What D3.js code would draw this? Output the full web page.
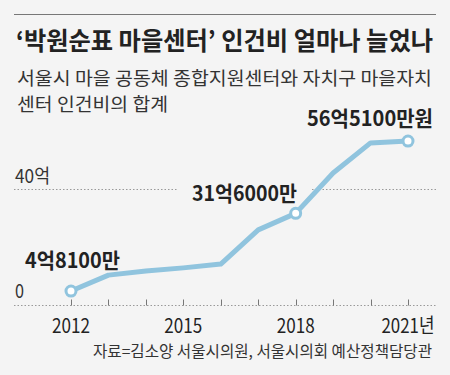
<!DOCTYPE html>
<html>
<head>
<meta charset="utf-8">
<script src="https://d3js.org/d3.v7.min.js"></script>
<style>
  body { margin: 0; background: #f4f4f4; }
  svg text { font-family: "Noto Sans CJK KR", "Noto Sans", sans-serif; }
</style>
</head>
<body>
<div id="chart"></div>
<script>
// data (억원)
var years = [2012, 2013, 2014, 2015, 2016, 2017, 2018, 2019, 2020, 2021];
var values = [4.81, 10.3, 11.7, 12.8, 14.1, 25.9, 31.6, 45.5, 55.9, 56.51];
var tickYears = [2012, 2015, 2018, 2021];
var tickLabels = ["2012", "2015", "2018", "2021년"];
var markedYears = [2012, 2018, 2021];
var markLabels = ["4억8100만", "31억6000만", "56억5100만원"];
var yTicks = [0, 40];
var yTickLabels = ["0", "40억"];

var width = 450, height = 375;
var blue = "#90c4de";

var svg = d3.select("#chart").append("svg")
    .attr("width", width)
    .attr("height", height);

svg.append("rect").attr("width", width).attr("height", height).attr("fill", "#f4f4f4");

// top rule + titles
svg.append("line")
    .attr("x1", 14).attr("x2", 436).attr("y1", 14.5).attr("y2", 14.5)
    .attr("stroke", "#777").attr("stroke-width", 1);

svg.append("text")
    .attr("x", 16).attr("y", 50)
    .attr("font-size", 25).attr("font-weight", "bold").attr("fill", "#222")
    .attr("textLength", 417).attr("lengthAdjust", "spacingAndGlyphs")
    .text("‘박원순표 마을센터’ 인건비 얼마나 늘었나");

// subtitle, two lines (font kept small enough that the line boxes don't collide)
svg.append("text")
    .attr("x", 17).attr("y", 85)
    .attr("font-size", 17.8).attr("fill", "#333")
    .attr("textLength", 415).attr("lengthAdjust", "spacingAndGlyphs")
    .text("서울시 마을 공동체 종합지원센터와 자치구 마을자치");
svg.append("text")
    .attr("x", 17).attr("y", 111)
    .attr("font-size", 17.8).attr("fill", "#333")
    .attr("textLength", 151).attr("lengthAdjust", "spacingAndGlyphs")
    .text("센터 인건비의 합계");

// scales
var x = d3.scaleLinear().domain([2012, 2021]).range([71, 408]);
var y = d3.scaleLinear().domain([0, 40]).range([305, 189]);

// 40억 gridline (broken behind label)
var gy = Math.round(y(40)) + 0.5;
[[14, 178], [312, 436]].forEach(function (seg) {
    svg.append("line")
        .attr("x1", seg[0]).attr("x2", seg[1]).attr("y1", gy).attr("y2", gy)
        .attr("stroke", "#999").attr("stroke-width", 1.2)
        .attr("stroke-dasharray", "1.5,2");
});

// baseline
var by = Math.round(y(0)) + 0.5;
svg.append("line")
    .attr("x1", 14).attr("x2", 436).attr("y1", by).attr("y2", by)
    .attr("stroke", "#999").attr("stroke-width", 1.2)
    .attr("stroke-dasharray", "1.5,2");

svg.selectAll(".tick")
    .data(years)
    .enter().append("line")
    .attr("x1", function (d) { return Math.round(x(d)) + 0.5; })
    .attr("x2", function (d) { return Math.round(x(d)) + 0.5; })
    .attr("y1", by - 6).attr("y2", by)
    .attr("stroke", "#777").attr("stroke-width", 1);

// y labels
svg.selectAll(".ylab")
    .data(yTicks)
    .enter().append("text")
    .attr("x", 15)
    .attr("y", function (d) { return d === 0 ? 298 : 183; })
    .attr("font-size", 19).attr("fill", "#333")
    .attr("textLength", function (d) { return d === 0 ? 9 : 35; })
    .attr("lengthAdjust", "spacingAndGlyphs")
    .text(function (d, i) { return yTickLabels[i]; });

// x labels
svg.selectAll(".xlab")
    .data(tickYears)
    .enter().append("text")
    .attr("x", function (d) { return x(d); })
    .attr("y", 333)
    .attr("text-anchor", "middle")
    .attr("font-size", 20).attr("fill", "#222")
    .attr("textLength", function (d, i) { return i === 3 ? 53 : 38; })
    .attr("lengthAdjust", "spacingAndGlyphs")
    .text(function (d, i) { return tickLabels[i]; });

// line
var line = d3.line()
    .x(function (d, i) { return x(years[i]); })
    .y(function (d) { return y(d); });

svg.append("path")
    .datum(values)
    .attr("d", line)
    .attr("fill", "none")
    .attr("stroke", blue)
    .attr("stroke-width", 5)
    .attr("stroke-linejoin", "round");

svg.selectAll(".dot")
    .data(markedYears)
    .enter().append("circle")
    .attr("cx", function (d) { return x(d); })
    .attr("cy", function (d) { return y(values[years.indexOf(d)]); })
    .attr("r", 5)
    .attr("fill", "#fff")
    .attr("stroke", blue)
    .attr("stroke-width", 3);

// value labels
var labelPos = [
    { x: 25, y: 268, w: 95 },
    { x: 192, y: 201, w: 105 },
    { x: 307, y: 126, w: 126 }
];
svg.selectAll(".vlab")
    .data(markLabels)
    .enter().append("text")
    .attr("x", function (d, i) { return labelPos[i].x; })
    .attr("y", function (d, i) { return labelPos[i].y; })
    .attr("font-size", 21).attr("font-weight", "bold").attr("fill", "#222")
    .attr("textLength", function (d, i) { return labelPos[i].w; })
    .attr("lengthAdjust", "spacingAndGlyphs")
    .text(function (d) { return d; });

// source
svg.append("text")
    .attr("x", 432).attr("y", 357)
    .attr("text-anchor", "end")
    .attr("font-size", 16).attr("fill", "#333")
    .attr("textLength", 339).attr("lengthAdjust", "spacingAndGlyphs")
    .text("자료=김소양 서울시의원, 서울시의회 예산정책담당관");
</script>
</body>
</html>
